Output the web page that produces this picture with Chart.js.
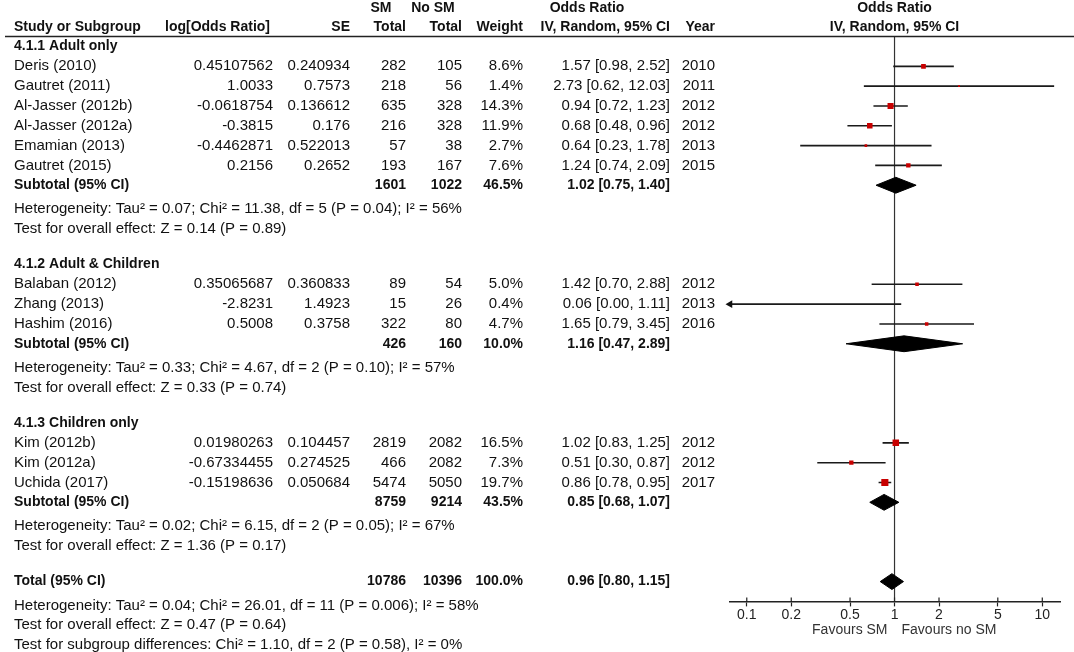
<!DOCTYPE html>
<html lang="en">
<head>
<meta charset="UTF-8">
<title>Forest plot - SM vs No SM</title>
<script src="https://cdnjs.cloudflare.com/ajax/libs/Chart.js/4.4.1/chart.umd.min.js"></script>
<style>
    * { margin: 0; padding: 0; box-sizing: border-box; }
    body { background: #fff; }
    .wrap { position: relative; width: 1074px; height: 652px; }
</style>
</head>
<body>
<div class="wrap"><canvas id="forest"></canvas></div>
<script>
    // one entry per study, top to bottom
    const studies = ['Deris (2010)', 'Gautret (2011)', 'Al-Jasser (2012b)', 'Al-Jasser (2012a)', 'Emamian (2013)', 'Gautret (2015)',
        'Balaban (2012)', 'Zhang (2013)', 'Hashim (2016)',
        'Kim (2012b)', 'Kim (2012a)', 'Uchida (2017)'];
    const studyGroup = [0, 0, 0, 0, 0, 0, 1, 1, 1, 2, 2, 2];
    const logOR = ['0.45107562', '1.0033', '-0.0618754', '-0.3815', '-0.4462871', '0.2156',
        '0.35065687', '-2.8231', '0.5008', '0.01980263', '-0.67334455', '-0.15198636'];
    const se = ['0.240934', '0.7573', '0.136612', '0.176', '0.522013', '0.2652',
        '0.360833', '1.4923', '0.3758', '0.104457', '0.274525', '0.050684'];
    const smTotal = [282, 218, 635, 216, 57, 193, 89, 15, 322, 2819, 466, 5474];
    const noSmTotal = [105, 56, 328, 328, 38, 167, 54, 26, 80, 2082, 2082, 5050];
    const weight = [8.6, 1.4, 14.3, 11.9, 2.7, 7.6, 5.0, 0.4, 4.7, 16.5, 7.3, 19.7];
    const orEst = [1.57, 2.73, 0.94, 0.68, 0.64, 1.24, 1.42, 0.06, 1.65, 1.02, 0.51, 0.86];
    const orLow = [0.98, 0.62, 0.72, 0.48, 0.23, 0.74, 0.70, 0.00, 0.79, 0.83, 0.30, 0.78];
    const orHigh = [2.52, 12.03, 1.23, 0.96, 1.78, 2.09, 2.88, 1.11, 3.45, 1.25, 0.87, 0.95];
    const years = [2010, 2011, 2012, 2012, 2013, 2015, 2012, 2013, 2016, 2012, 2012, 2017];

    // subgroups
    const groups = ['4.1.1 Adult only', '4.1.2 Adult & Children', '4.1.3 Children only'];
    const subSm = [1601, 426, 8759];
    const subNoSm = [1022, 160, 9214];
    const subWeight = [46.5, 10.0, 43.5];
    const subEst = [1.02, 1.16, 0.85];
    const subLow = [0.75, 0.47, 0.68];
    const subHigh = [1.40, 2.89, 1.07];
    const subHet = [
        'Heterogeneity: Tau\u00b2 = 0.07; Chi\u00b2 = 11.38, df = 5 (P = 0.04); I\u00b2 = 56%',
        'Heterogeneity: Tau\u00b2 = 0.33; Chi\u00b2 = 4.67, df = 2 (P = 0.10); I\u00b2 = 57%',
        'Heterogeneity: Tau\u00b2 = 0.02; Chi\u00b2 = 6.15, df = 2 (P = 0.05); I\u00b2 = 67%'];
    const subTest = [
        'Test for overall effect: Z = 0.14 (P = 0.89)',
        'Test for overall effect: Z = 0.33 (P = 0.74)',
        'Test for overall effect: Z = 1.36 (P = 0.17)'];

    // overall
    const totalSm = 10786;
    const totalNoSm = 10396;
    const totalWeight = 100.0;
    const totalEst = 0.96;
    const totalLow = 0.80;
    const totalHigh = 1.15;
    const totalNotes = [
        'Heterogeneity: Tau\u00b2 = 0.04; Chi\u00b2 = 26.01, df = 11 (P = 0.006); I\u00b2 = 58%',
        'Test for overall effect: Z = 0.47 (P = 0.64)',
        'Test for subgroup differences: Chi\u00b2 = 1.10, df = 2 (P = 0.58), I\u00b2 = 0%'];

    const tickValues = [0.1, 0.2, 0.5, 1, 2, 5, 10];
    const XMIN = 0.077, XMAX = 13.18;

    // row layout: heading, studies, subtotal, heterogeneity, overall effect, blank
    const studyRow = [], groupRow = [], subRow = [];
    let r = -1;
    groups.forEach((g, gi) => {
        groupRow.push(r++);
        studyGroup.forEach((sg, i) => { if (sg === gi) studyRow[i] = r++; });
        subRow.push(r);
        r += 4;
    });
    const totalRow = r;

    const FONT = '"Liberation Sans", Arial, sans-serif';
    const REG = '15px ' + FONT;
    const BOLD = 'bold 14px ' + FONT;
    const INK = '#111';

    // table columns (right edges unless noted)
    const COL = { name: 14, logor: 273, se: 350, sm: 406, nosm: 462, weight: 523, or: 670, year: 715 };

    const orText = (e, l, h) => e.toFixed(2) + ' [' + l.toFixed(2) + ', ' + h.toFixed(2) + ']';

    // CI whiskers, broken between studies
    const ciData = [];
    studies.forEach((s, i) => {
        const lo = Math.max(orLow[i], XMIN);
        ciData.push({ x: lo, y: studyRow[i] }, { x: orHigh[i], y: studyRow[i] }, { x: orHigh[i], y: null });
    });

    const pointData = studies.map((s, i) => ({ x: orEst[i], y: studyRow[i] }));
    const arrowData = studies.map((s, i) => ({ x: XMIN, y: studyRow[i] })).filter((p, i) => orLow[i] < XMIN);

    function diamond(lo, est, hi, row) {
        const h = 0.4;
        return [{ x: lo, y: row }, { x: est, y: row - h }, { x: hi, y: row }, { x: est, y: row + h }, { x: lo, y: row }];
    }
    const diamonds = groups.map((g, gi) => diamond(subLow[gi], subEst[gi], subHigh[gi], subRow[gi]));
    diamonds.push(diamond(totalLow, totalEst, totalHigh, totalRow));

    const tablePlugin = {
        id: 'table',
        afterDraw(chart) {
            const ctx = chart.ctx;
            const y = chart.scales.y;
            const x = chart.scales.x;
            const px1 = x.getPixelForValue(1);
            const area = chart.chartArea;

            function txt(s, tx, row, align, font) {
                ctx.font = font || REG;
                ctx.textAlign = align || 'left';
                ctx.fillText(String(s), tx, y.getPixelForValue(row));
            }

            ctx.save();
            ctx.fillStyle = INK;
            ctx.textBaseline = 'middle';

            // header
            txt('SM', 381, -2.95, 'center', BOLD);
            txt('No SM', 433, -2.95, 'center', BOLD);
            txt('Odds Ratio', 587, -2.95, 'center', BOLD);
            txt('Odds Ratio', px1, -2.95, 'center', BOLD);
            txt('Study or Subgroup', COL.name, -2, 'left', BOLD);
            txt('log[Odds Ratio]', 270, -2, 'right', BOLD);
            txt('SE', COL.se, -2, 'right', BOLD);
            txt('Total', COL.sm, -2, 'right', BOLD);
            txt('Total', COL.nosm, -2, 'right', BOLD);
            txt('Weight', COL.weight, -2, 'right', BOLD);
            txt('IV, Random, 95% CI', COL.or, -2, 'right', BOLD);
            txt('Year', COL.year, -2, 'right', BOLD);
            txt('IV, Random, 95% CI', px1, -2, 'center', BOLD);

            // studies
            studies.forEach((s, i) => {
                const row = studyRow[i];
                txt(s, COL.name, row);
                txt(logOR[i], COL.logor, row, 'right');
                txt(se[i], COL.se, row, 'right');
                txt(smTotal[i], COL.sm, row, 'right');
                txt(noSmTotal[i], COL.nosm, row, 'right');
                txt(weight[i].toFixed(1) + '%', COL.weight, row, 'right');
                txt(orText(orEst[i], orLow[i], orHigh[i]), COL.or, row, 'right');
                txt(years[i], COL.year, row, 'right');
            });

            // subgroups
            groups.forEach((g, gi) => {
                txt(g, COL.name, groupRow[gi], 'left', BOLD);
                const row = subRow[gi];
                txt('Subtotal (95% CI)', COL.name, row, 'left', BOLD);
                txt(subSm[gi], COL.sm, row, 'right', BOLD);
                txt(subNoSm[gi], COL.nosm, row, 'right', BOLD);
                txt(subWeight[gi].toFixed(1) + '%', COL.weight, row, 'right', BOLD);
                txt(orText(subEst[gi], subLow[gi], subHigh[gi]), COL.or, row, 'right', BOLD);
                txt(subHet[gi], COL.name, row + 1.2);
                txt(subTest[gi], COL.name, row + 2.2);
            });

            // overall
            txt('Total (95% CI)', COL.name, totalRow, 'left', BOLD);
            txt(totalSm, COL.sm, totalRow, 'right', BOLD);
            txt(totalNoSm, COL.nosm, totalRow, 'right', BOLD);
            txt(totalWeight.toFixed(1) + '%', COL.weight, totalRow, 'right', BOLD);
            txt(orText(totalEst, totalLow, totalHigh), COL.or, totalRow, 'right', BOLD);
            totalNotes.forEach((n, k) => txt(n, COL.name, totalRow + 1.2 + k));

            // rule under the header
            ctx.strokeStyle = '#222';
            ctx.lineWidth = 1.5;
            ctx.beginPath();
            ctx.moveTo(5, y.getPixelForValue(-1.5));
            ctx.lineTo(1074, y.getPixelForValue(-1.5));
            ctx.stroke();

            // upper half of the tick marks
            ctx.lineWidth = 1.2;
            ctx.beginPath();
            tickValues.forEach(v => {
                const tx = x.getPixelForValue(v);
                ctx.moveTo(tx, area.bottom - 4);
                ctx.lineTo(tx, area.bottom);
            });
            ctx.stroke();

            // favours labels
            ctx.fillStyle = '#333';
            ctx.font = '14px ' + FONT;
            ctx.textAlign = 'right';
            ctx.fillText('Favours SM', px1 - 7, area.bottom + 29);
            ctx.textAlign = 'left';
            ctx.fillText('Favours no SM', px1 + 7, area.bottom + 29);
            ctx.restore();
        }
    };

    const datasets = [
        {
            type: 'scatter', data: pointData, order: 1,
            pointStyle: 'rect', backgroundColor: '#c80000', borderWidth: 0,
            pointRadius: weight.map(w => 1.6 * Math.sqrt(w) / 1.414)
        },
        {
            type: 'scatter', data: arrowData, order: 1, clip: false,
            pointStyle: 'triangle', rotation: 270, backgroundColor: '#111', borderColor: '#111',
            borderWidth: 0, pointRadius: 4.5
        },
        {
            type: 'line', data: ciData, order: 3,
            borderColor: '#1a1a1a', borderWidth: 1.6, pointRadius: 0, spanGaps: false
        },
        {
            type: 'line', data: [{ x: 1, y: -1.5 }, { x: 1, y: totalRow + 1 }], order: 4,
            borderColor: '#333', borderWidth: 1.2, pointRadius: 0
        }
    ];
    diamonds.forEach(d => datasets.push({
        type: 'line', data: d, order: 2, fill: 'shape',
        backgroundColor: '#000', borderColor: '#000', borderWidth: 1, pointRadius: 0, tension: 0
    }));

    Chart.defaults.font.family = FONT;

    new Chart(document.getElementById('forest'), {
        data: { datasets: datasets },
        options: {
            responsive: true,
            maintainAspectRatio: false,
            animation: false,
            layout: { padding: { left: 730, right: 14, top: 36.6, bottom: 28.8 } },
            plugins: { legend: { display: false }, tooltip: { enabled: false } },
            scales: {
                x: {
                    type: 'logarithmic',
                    position: 'bottom',
                    min: XMIN,
                    max: XMAX,
                    bounds: 'data',
                    afterBuildTicks: axis => { axis.ticks = tickValues.map(v => ({ value: v })); },
                    border: { display: true, color: '#222', width: 1.5 },
                    grid: { display: true, drawOnChartArea: false, drawTicks: true, tickLength: 5, tickColor: '#222', tickWidth: 1.2 },
                    ticks: {
                        padding: 0,
                        color: '#222',
                        font: { size: 14 },
                        autoSkip: false,
                        maxRotation: 0,
                        callback: v => String(v)
                    }
                },
                y: {
                    type: 'linear',
                    display: false,
                    reverse: true,
                    min: -1.5,
                    max: totalRow + 1
                }
            }
        },
        plugins: [tablePlugin]
    });
</script>
</body>
</html>
